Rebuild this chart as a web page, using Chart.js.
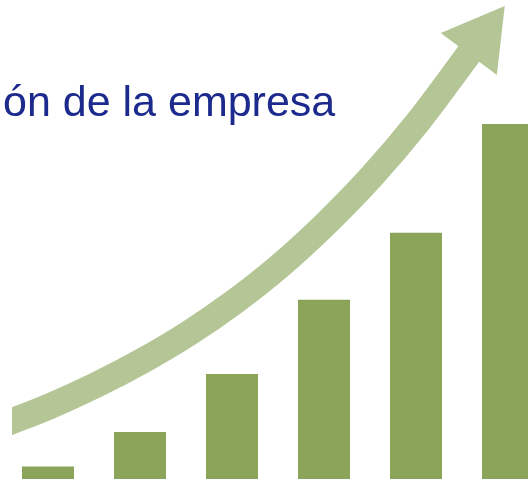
<!DOCTYPE html>
<html lang="es">
<head>
<meta charset="utf-8">
<title>Evolución de la empresa</title>
<script src="https://cdn.jsdelivr.net/npm/chart.js@4.4.1/dist/chart.umd.min.js"></script>
<style>
    html, body {
        margin: 0;
        padding: 0;
        background: #ffffff;
        overflow: hidden;
        width: 528px;
        height: 479px;
    }
    #titulo {
        position: absolute;
        left: 3px;
        top: 80px;
        font-family: "Liberation Sans", Arial, sans-serif;
        font-size: 43px;
        line-height: 1;
        color: #1c2a8e;
        white-space: nowrap;
    }
    #contenedor {
        position: absolute;
        left: 2px;
        top: 0;
        width: 552px;
        height: 479px;
    }
</style>
</head>
<body>
<div id="contenedor"><canvas id="graficoEvolucion"></canvas></div>
<div id="titulo">ón de la empresa</div>

<script>
/* =================================================================
   GRÁFICO DE EVOLUCIÓN - barras crecientes con flecha de tendencia
   ================================================================= */

// Periodos (no se muestran en el gráfico)
const periodos = ['Año 1', 'Año 2', 'Año 3', 'Año 4', 'Año 5', 'Año 6'];

// Valores de las barras (escala 0-100)
const valores = [2.6, 9.8, 21.9, 37.4, 51.4, 74.1];

// Trazo de la flecha: posición en periodos (índice) y valor
const flechaX = [-0.48, 0.02, 0.52, 1.02, 1.52, 2.02, 2.52, 3.02, 3.52, 4.02, 4.60];
const flechaY = [11.4, 15.2, 19.6, 24.6, 30.3, 36.9, 44.5, 53.3, 63.2, 74.5, 89.4];

const COLOR_BARRA = '#8ca459';
const COLOR_FLECHA = '#b5c696';

/**
 * Dibuja la punta de la flecha al final de la línea de tendencia
 */
const puntaFlecha = {
    id: 'puntaFlecha',
    afterDatasetsDraw(chart) {
        const meta = chart.getDatasetMeta(1);
        const pts = meta.data;
        if (pts.length < 2) return;
        const fin = pts[pts.length - 1];
        const prev = pts[pts.length - 2];
        let dx = fin.x - prev.x;
        let dy = fin.y - prev.y;
        const len = Math.hypot(dx, dy);
        dx /= len;
        dy /= len;
        const px = -dy, py = dx;   // perpendicular
        const largo = 56, medio = 35, atras = 4;
        const bx = fin.x - dx * atras;
        const by = fin.y - dy * atras;

        const ctx = chart.ctx;
        ctx.save();
        ctx.fillStyle = COLOR_FLECHA;
        ctx.beginPath();
        ctx.moveTo(fin.x + dx * largo, fin.y + dy * largo);
        ctx.lineTo(bx + px * medio, by + py * medio);
        ctx.lineTo(bx - px * medio, by - py * medio);
        ctx.closePath();
        ctx.fill();
        ctx.restore();
    }
};

const ctx = document.getElementById('graficoEvolucion').getContext('2d');

new Chart(ctx, {
    type: 'bar',
    data: {
        labels: periodos,
        datasets: [
            {
                label: 'Evolución',
                data: valores,
                backgroundColor: COLOR_BARRA,
                borderWidth: 0,
                grouped: false,
                categoryPercentage: 1,
                barPercentage: 0.565,
                order: 2
            },
            {
                type: 'line',
                label: 'Tendencia',
                data: flechaX.map((x, i) => ({ x: x, y: flechaY[i] })),
                xAxisID: 'xa',
                yAxisID: 'y',
                borderColor: COLOR_FLECHA,
                borderWidth: 26,
                borderCapStyle: 'butt',
                borderJoinStyle: 'round',
                cubicInterpolationMode: 'monotone',
                pointRadius: 0,
                fill: false,
                clip: { left: -10, top: false, right: false, bottom: false },
                order: 1
            }
        ]
    },
    options: {
        responsive: true,
        maintainAspectRatio: false,
        animation: false,
        layout: { padding: 0 },
        plugins: {
            legend: { display: false },
            title: { display: false },
            tooltip: { enabled: false }
        },
        scales: {
            x: { display: false, offset: true },
            xa: { type: 'linear', display: false, offset: false, min: -0.5, max: 5.5 },
            y: { display: false, min: 0, max: 100 }
        }
    },
    plugins: [puntaFlecha]
});
</script>
</body>
</html>
